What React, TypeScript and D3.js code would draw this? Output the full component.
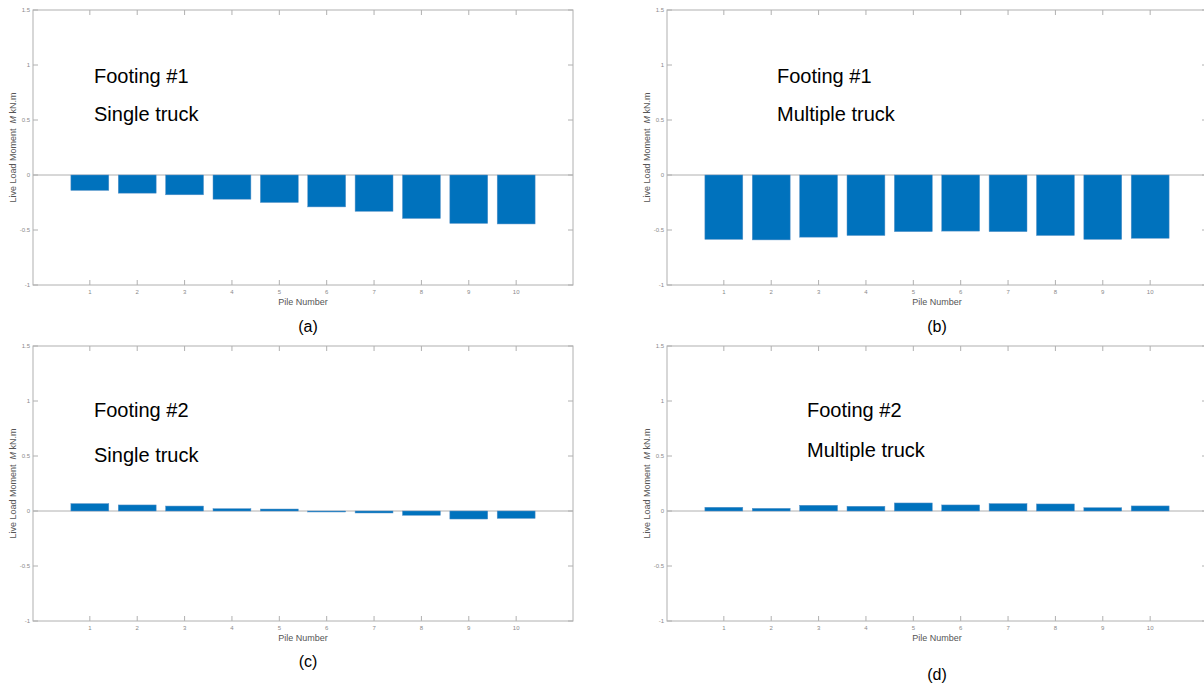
import React from "react";
import * as d3 from "d3";

// pile numbers along the x axis
const piles = [1, 2, 3, 4, 5, 6, 7, 8, 9, 10];
const yTicks = [-1, -0.5, 0, 0.5, 1, 1.5];

// live load moments (kN.m)
const footing1Single = [-0.14, -0.165, -0.18, -0.22, -0.25, -0.29, -0.33, -0.395, -0.44, -0.445];
const footing1Multiple = [-0.585, -0.59, -0.565, -0.55, -0.515, -0.51, -0.515, -0.55, -0.585, -0.575];
const footing2Single = [0.067, 0.055, 0.045, 0.021, 0.018, -0.009, -0.018, -0.039, -0.073, -0.067];
const footing2Multiple = [0.034, 0.024, 0.052, 0.043, 0.073, 0.055, 0.067, 0.064, 0.03, 0.046];

const panels = [
  { values: footing1Single, left: 33, top: 10, title: "Footing #1", sub: "Single truck", tx: 94, ty1: 83, ty2: 121, cap: "(a)", cy: 332 },
  { values: footing1Multiple, left: 667, top: 10, title: "Footing #1", sub: "Multiple truck", tx: 777, ty1: 83, ty2: 121, cap: "(b)", cy: 332 },
  { values: footing2Single, left: 33, top: 346, title: "Footing #2", sub: "Single truck", tx: 94, ty1: 417, ty2: 462, cap: "(c)", cy: 667 },
  { values: footing2Multiple, left: 667, top: 346, title: "Footing #2", sub: "Multiple truck", tx: 807, ty1: 417, ty2: 457, cap: "(d)", cy: 680 },
];

const W = 540;
const H = 275;
const axisColor = "#b0b0b0";
const tickText = "#8a8a8a";

function Panel({ p }) {
  const x = d3.scaleLinear().domain([-0.2, 11.2]).range([p.left, p.left + W]);
  const y = d3.scaleLinear().domain([-1, 1.5]).range([p.top + H, p.top]);
  const bw = (x(1) - x(0)) * 0.8;
  const right = p.left + W;
  const bottom = p.top + H;
  return (
    <g fontFamily="Liberation Sans, Arial, sans-serif">
      <rect x={p.left} y={p.top} width={W} height={H} fill="none" stroke={axisColor} strokeWidth={1} />
      {/* zero baseline */}
      <line x1={p.left} x2={right} y1={y(0)} y2={y(0)} stroke={axisColor} />
      {p.values.map((v, i) => (
        <rect
          key={i}
          x={x(piles[i]) - bw / 2}
          y={Math.min(y(v), y(0))}
          width={bw}
          height={Math.max(Math.abs(y(v) - y(0)), 1)}
          fill="#0072BD"
          stroke="#5b93c8"
          strokeWidth={0.5}
        />
      ))}
      {piles.map((d) => (
        <g key={d}>
          <line x1={x(d)} x2={x(d)} y1={bottom} y2={bottom - 5} stroke={axisColor} />
          <line x1={x(d)} x2={x(d)} y1={p.top} y2={p.top + 5} stroke={axisColor} />
          <text x={x(d)} y={bottom + 9} fontSize={6} fill={tickText} textAnchor="middle">{d}</text>
        </g>
      ))}
      {yTicks.map((t) => (
        <g key={t}>
          <line x1={p.left} x2={p.left + 5} y1={y(t)} y2={y(t)} stroke={axisColor} />
          <line x1={right} x2={right - 5} y1={y(t)} y2={y(t)} stroke={axisColor} />
          <text x={p.left - 3} y={y(t) + 2} fontSize={6} fill={tickText} textAnchor="end">{t}</text>
        </g>
      ))}
      <text x={(p.left + right) / 2} y={bottom + 20} fontSize={9} fill="#555" textAnchor="middle">Pile Number</text>
      <text
        transform={`translate(${p.left - 17},${(p.top + bottom) / 2}) rotate(-90)`}
        fontSize={9}
        fill="#555"
        textAnchor="middle"
      >
        Live Load Moment{"\u00a0\u00a0"}<tspan fontStyle="italic">M</tspan> kN.m
      </text>
      <text x={p.tx} y={p.ty1} fontSize={20} fill="#000">{p.title}</text>
      <text x={p.tx} y={p.ty2} fontSize={20} fill="#000">{p.sub}</text>
      <text x={p.left + (p.left < 100 ? 275 : 270)} y={p.cy} fontSize={16} fill="#000" textAnchor="middle">{p.cap}</text>
    </g>
  );
}

export default function App() {
  return (
    <svg width={1204} height={687} style={{ position: "absolute", left: 0, top: 0, background: "#fff" }}>
      {panels.map((p, i) => (
        <Panel key={i} p={p} />
      ))}
    </svg>
  );
}
